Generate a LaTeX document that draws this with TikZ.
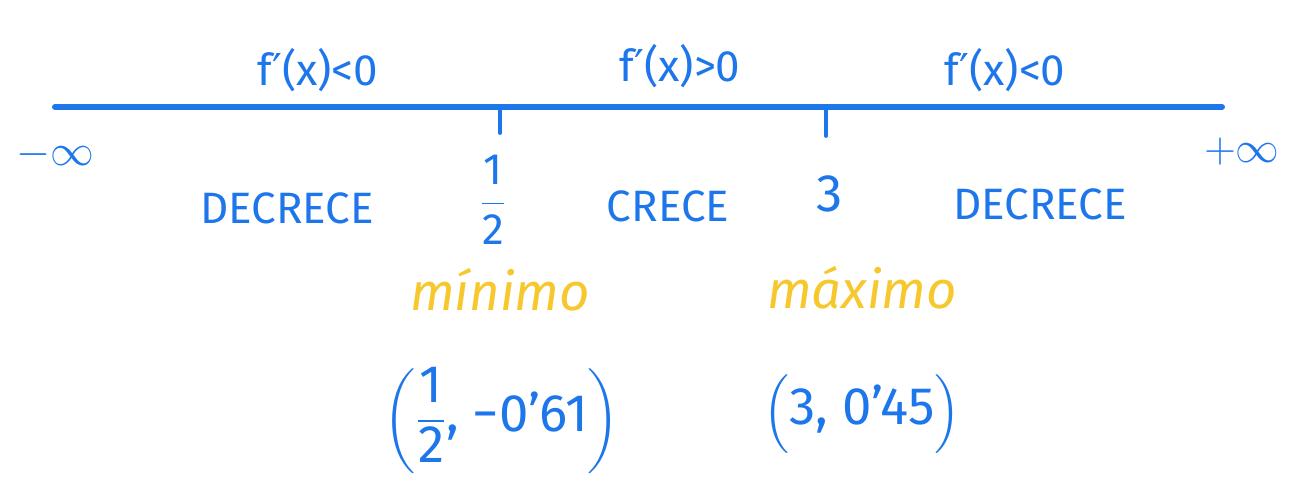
\documentclass[tikz,border=0pt]{standalone}
\usepackage{amsmath}
\usepackage{fontspec}
\setmainfont{Fira Sans}
\newfontfamily\symfont{DejaVu Sans}
\usepackage{tikz}
\usetikzlibrary{positioning}

\definecolor{markblue}{RGB}{30,118,235}
\definecolor{markyellow}{RGB}{246,200,45}

\newcommand{\dprime}{{\symfont ′}}

\begin{document}
\begin{tikzpicture}[
        x=0.02cm,
        y=-0.02cm,
        axis/.style={
            draw=markblue,
            line width=3.4pt,
            line cap=round
        },
        tick/.style={
            draw=markblue,
            line width=2.2pt,
            line cap=round
        },
        bluetext/.style={
            text=markblue,
            inner sep=0pt,
            font=\fontsize{25}{30}\selectfont
        },
        pointtext/.style={
            bluetext,
            font=\fontsize{30}{36}\selectfont
        },
        extrtext/.style={
            text=markyellow,
            inner sep=0pt,
            font=\fontsize{30}{36}\selectfont\itshape
        }
    ]

    \useasboundingbox (0,0) rectangle (1294,488);

    % Real line
    \coordinate (left) at (55,107);
    \coordinate (right) at (1222,107);
    \draw[axis] (left) -- (right);

    % Critical points
    \coordinate (c1) at (500,107);
    \coordinate (c2) at (826,107);
    \coordinate (c1e) at (500,133);
    \coordinate (c2e) at (826,136);
    \draw[tick] (c1) -- (c1e);
    \draw[tick] (c2) -- (c2e);

    % Ends of the line
    \node[bluetext] (minf) at (55,155) {$-\infty$};
    \node[bluetext] (pinf) at (1242,152) {$+\infty$};

    % Sign of the derivative
    \node[bluetext] (s1) at (318,70) {f\dprime(x)<0};
    \node[bluetext] (s2) at (680,66) {f\dprime(x)>0};
    \node[bluetext] (s3) at (1005,70) {f\dprime(x)<0};

    % Values under the ticks
    \node[bluetext] (v1) at (493,200) {$\dfrac{\text{1}}{\text{2}}$};
    \node[bluetext, font=\fontsize{30}{36}\selectfont] (v2) at (830,194) {3};

    % Monotony
    \node[bluetext] (m1) at (287,208) {DECRECE};
    \node[bluetext] (m2) at (668,206) {CRECE};
    \node[bluetext] (m3) at (1040,204) {DECRECE};

    % Extrema
    \node[extrtext] (e1) at (500,290) {mínimo};
    \node[extrtext] (e2) at (862,288) {máximo};

    \node[pointtext] (p1) at (502,420) {$\biggl(\dfrac{\text{1}}{\text{2}}\text{, −0'61}\biggr)$};
    \node[pointtext] (p2) at (862,414) {$\Bigl(\text{3, 0'45}\Bigr)$};

\end{tikzpicture}
\end{document}
